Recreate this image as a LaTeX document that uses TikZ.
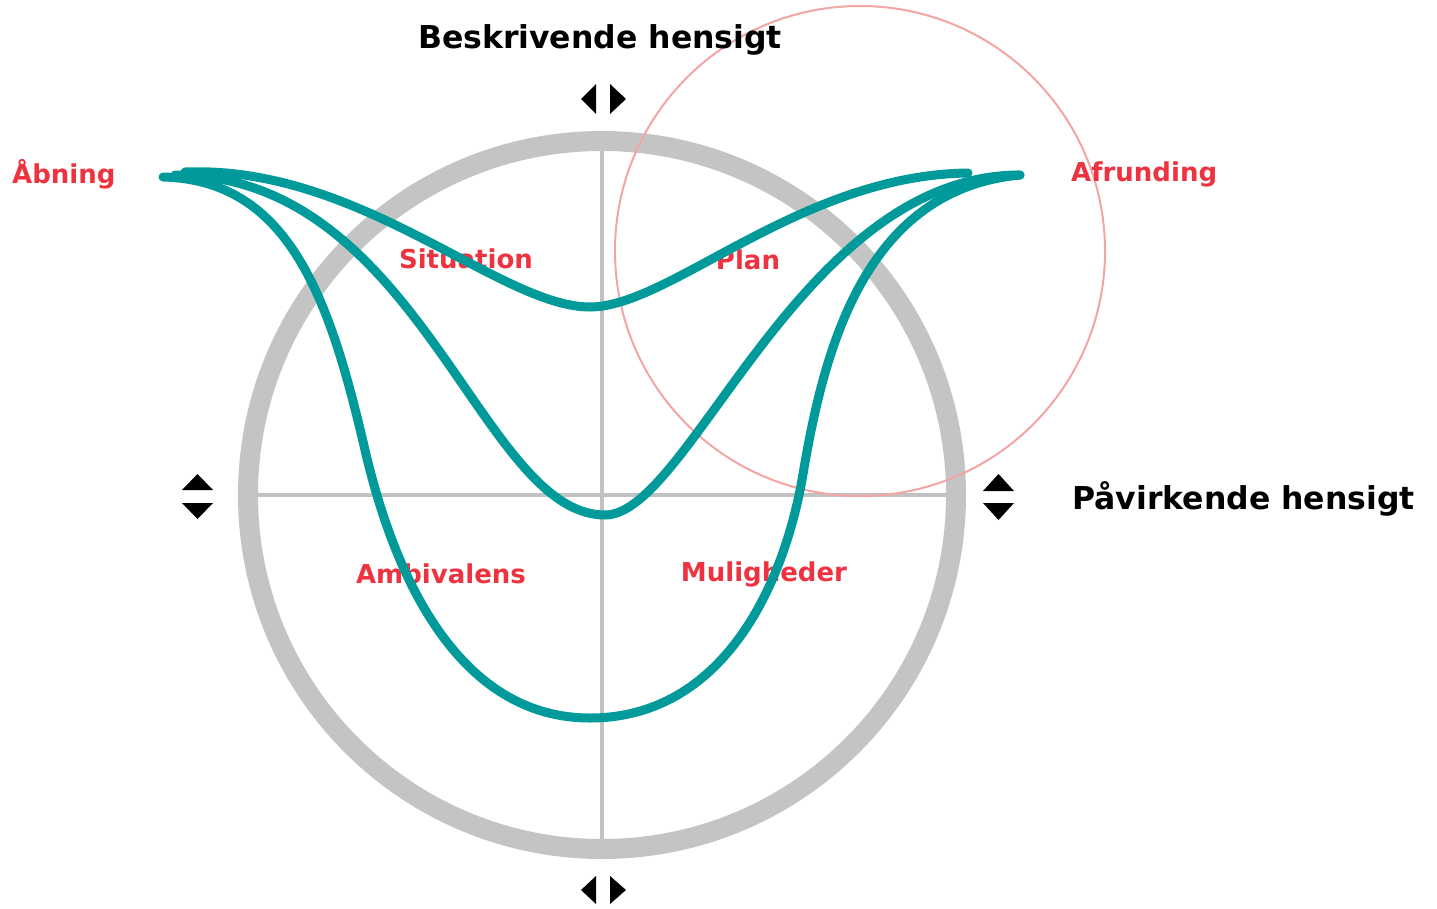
\documentclass[tikz,border=0pt]{standalone}
\usepackage{fontspec}
\setmainfont{DejaVu Sans}
\definecolor{ringgray}{HTML}{C4C4C4}
\definecolor{axisgray}{HTML}{C2C2C2}
\definecolor{tealc}{HTML}{009A9A}
\definecolor{labred}{HTML}{EE3340}
\definecolor{pinkc}{HTML}{F3A5A5}
\begin{document}
\begin{tikzpicture}[x=1pt,y=-1pt,
  ring/.style={draw=ringgray,line width=20pt},
  axis/.style={draw=axisgray,line width=3.5pt},
  curve/.style={draw=tealc,line width=9pt,line cap=round},
  redlab/.style={text=labred,font=\fontsize{26}{30}\selectfont\bfseries,inner sep=0pt},
  blacklab/.style={text=black,font=\fontsize{31.5}{36}\selectfont\bfseries,inner sep=0pt},
  tri/.style={fill=black,draw=none}]
\useasboundingbox (0,0) rectangle (1437,908);
% axes and ring
\coordinate (c) at (602,495);
\coordinate (vt) at (602,150);
\coordinate (vb) at (602,840);
\coordinate (hl) at (258,495);
\coordinate (hr) at (946,495);
\draw[axis] (vt) -- (vb);
\draw[axis] (hl) -- (hr);
\draw[ring] (c) circle[radius=354pt];
% pink circle
\draw[draw=pinkc,line width=2pt] (860,251) circle[radius=245pt];
% labels
\node[blacklab,anchor=base] (besk) at (600,48) {Beskrivende hensigt};
\node[blacklab,anchor=base west] (paav) at (1072,509) {Påvirkende hensigt};
\node[redlab,anchor=base west] (abn) at (12,183) {Åbning};
\node[redlab,anchor=base west] (afr) at (1071,181) {Afrunding};
\node[redlab,anchor=base] (sit) at (466,268) {Situation};
\node[redlab,anchor=base] (plan) at (748,269) {Plan};
\node[redlab,anchor=base] (amb) at (441,583) {Ambivalens};
\node[redlab,anchor=base] (mul) at (764,581) {Muligheder};
% markers
\fill[tri] (581,99) -- (596,84) -- (596,114) -- cycle;
\fill[tri] (626,99) -- (610,84) -- (610,114) -- cycle;
\fill[tri] (581,890) -- (596,876) -- (596,904) -- cycle;
\fill[tri] (626,890) -- (610,876) -- (610,904) -- cycle;
\fill[tri] (197.5,474) -- (182,490) -- (213,490) -- cycle;
\fill[tri] (197.5,519) -- (182,503) -- (213,503) -- cycle;
\fill[tri] (998.5,474) -- (983,491) -- (1014,491) -- cycle;
\fill[tri] (998.5,520) -- (983,503) -- (1014,503) -- cycle;
% curves
\coordinate (sA) at (185,172);
\coordinate (eA) at (968,173);
\coordinate (sB) at (175,175);
\coordinate (eB) at (1020,175);
\coordinate (sC) at (163,177);
\coordinate (eC) at (1020,175);
\draw[curve] (sC) .. controls (290,180) and (330,300) .. (365,450) .. controls (400,600) and (470,718) .. (590,718) .. controls (715,718) and (780,600) .. (802,480) .. controls (822,360) and (860,190) .. (eC);
\draw[curve] (sB) .. controls (420,175) and (480,515) .. (605,515) .. controls (690,515) and (800,175) .. (eB);
\draw[curve] (sA) .. controls (360,165) and (500,307) .. (590,307) .. controls (670,307) and (800,175) .. (eA);
\end{tikzpicture}
\end{document}
